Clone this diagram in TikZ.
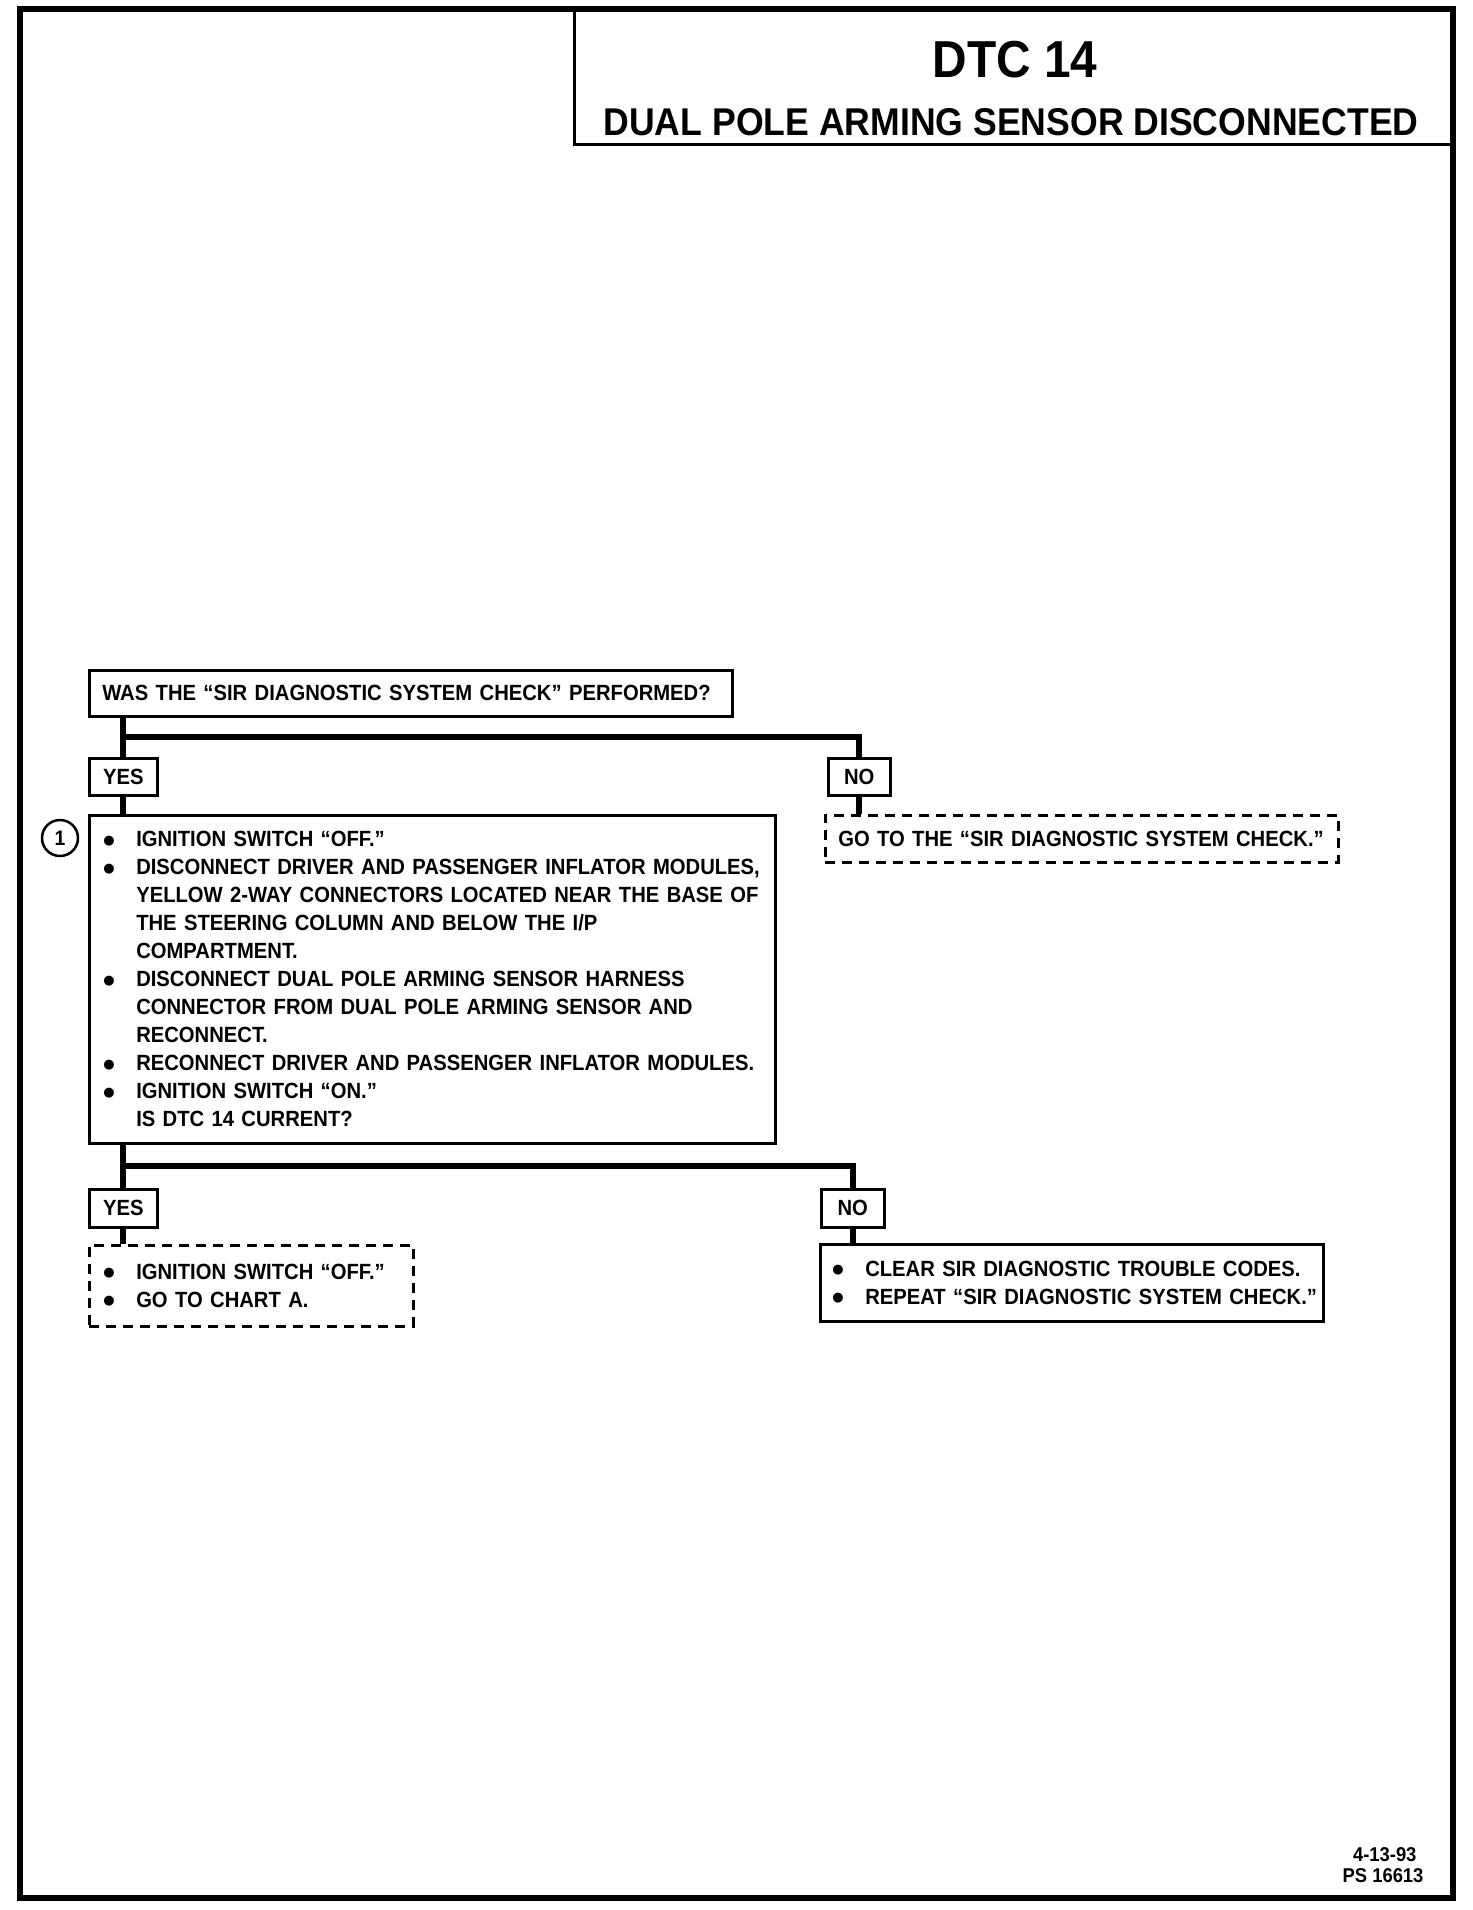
\documentclass[tikz,border=0pt]{standalone}
\usepackage{fontspec}
\setmainfont{Liberation Sans}[FakeStretch=0.92]
\newfontfamily\dejavu{DejaVu Sans}
\newcommand\bdot{\raisebox{2.5pt}{\dejavu\fontsize{13}{13}\selectfont ●}}
\newcommand\bl[1]{\mbox{\makebox[32pt][l]{\hspace*{-1pt}\bdot}#1}}
\newcommand\ct[1]{\mbox{\hspace*{32pt}#1}}
\begin{document}
\begin{tikzpicture}[x=1pt,y=-1pt,
  sbox/.style={draw,line width=2.5pt,inner sep=0pt,anchor=north west},
  dbox/.style={draw,line width=2.5pt,dash pattern=on 10pt off 7pt,inner sep=0pt,anchor=north west},
  txt/.style={font=\bfseries\fontsize{22}{28}\selectfont},
  lbl/.style={sbox,font=\bfseries\fontsize{22}{28}\selectfont,align=center},
  conn/.style={line width=6pt}]
\useasboundingbox (0,0) rectangle (1472,1910);
% page border and title box
\draw[line width=5.5pt] (20,9) rectangle (1453,1898);
\draw[line width=3pt] (574,9) -- (574,145) -- (1453,145);
\node[font=\bfseries\fontsize{52}{56}\selectfont] (t1) at (1015,60) {DTC 14};
\node[font=\bfseries\fontsize{38.7}{42}\selectfont] (t2) at (1011,122) {DUAL POLE ARMING SENSOR DISCONNECTED};
% question
\node[sbox,txt,minimum width=643pt,minimum height=46pt,text width=617pt,inner xsep=13pt,align=left] (Q1) at (88,669)
  {\mbox{WAS THE “SIR DIAGNOSTIC SYSTEM CHECK” PERFORMED?}};
\node[lbl,minimum width=68pt,minimum height=37pt] (YES1) at (88,757) {YES};
\node[lbl,minimum width=62pt,minimum height=37pt] (NO1) at (827,757) {NO};
\node[sbox,txt,minimum width=686pt,minimum height=328pt,text width=656pt,inner xsep=15pt,align=left] (M) at (88,814)
  {\bl{IGNITION SWITCH “OFF.”}\\
   \bl{DISCONNECT DRIVER AND PASSENGER INFLATOR MODULES,}\\
   \ct{YELLOW 2-WAY CONNECTORS LOCATED NEAR THE BASE OF}\\
   \ct{THE STEERING COLUMN AND BELOW THE I/P}\\
   \ct{COMPARTMENT.}\\
   \bl{DISCONNECT DUAL POLE ARMING SENSOR HARNESS}\\
   \ct{CONNECTOR FROM DUAL POLE ARMING SENSOR AND}\\
   \ct{RECONNECT.}\\
   \bl{RECONNECT DRIVER AND PASSENGER INFLATOR MODULES.}\\
   \bl{IGNITION SWITCH “ON.”}\\
   \ct{IS DTC 14 CURRENT?}};
\node[circle,draw,line width=2.5pt,minimum size=36pt,inner sep=0pt,font=\bfseries\fontsize{21}{22}\selectfont] (C1) at (60,838) {1};
\node[dbox,txt,minimum width=513pt,minimum height=47pt,text width=487pt,inner xsep=13pt,align=left] (D1) at (824,814)
  {\mbox{GO TO THE “SIR DIAGNOSTIC SYSTEM CHECK.”}};
\node[lbl,minimum width=68pt,minimum height=38pt] (YES2) at (88,1188) {YES};
\node[lbl,minimum width=63pt,minimum height=38pt] (NO2) at (820,1188) {NO};
\node[dbox,txt,minimum width=324pt,minimum height=81pt,text width=294pt,inner xsep=15pt,align=left] (D2) at (88,1244)
  {\bl{IGNITION SWITCH “OFF.”}\\ \bl{GO TO CHART A.}};
\node[sbox,txt,minimum width=503pt,minimum height=77pt,text width=477pt,inner xsep=13pt,align=left] (B3) at (819,1243)
  {\bl{CLEAR SIR DIAGNOSTIC TROUBLE CODES.}\\ \bl{REPEAT “SIR DIAGNOSTIC SYSTEM CHECK.”}};
% junctions
\coordinate (h1) at (0,737);
\coordinate (h2) at (0,1166);
% connectors
\draw[conn] (YES1.north |- Q1.south) -- (YES1.north);
\draw[conn] (YES1.north |- h1) -| (NO1.north);
\draw[conn] (YES1.south) -- (YES1.south |- M.north);
\draw[conn] (NO1.south) -- (NO1.south |- D1.north);
\draw[conn] (YES2.north |- M.south) -- (YES2.north);
\draw[conn] (YES2.north |- h2) -| (NO2.north);
\draw[conn] (YES2.south) -- (YES2.south |- D2.north);
\draw[conn] (NO2.south) -- (NO2.south |- B3.north);
% footer
\node[anchor=east,font=\bfseries\fontsize{20}{21}\selectfont] (d1) at (1420,1855) {4-13-93};
\node[anchor=east,font=\bfseries\fontsize{20}{21}\selectfont] (d2) at (1427,1876) {PS 16613};
\end{tikzpicture}
\end{document}
